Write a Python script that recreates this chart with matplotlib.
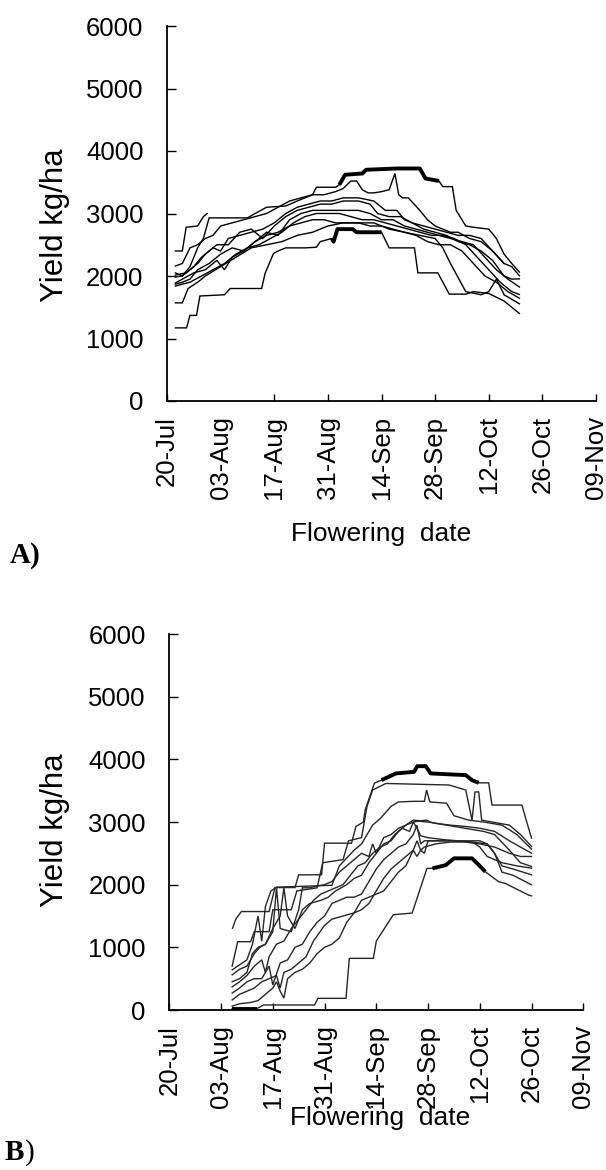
import matplotlib
matplotlib.use("Agg")
import matplotlib.pyplot as plt

# days counted from 20-Jul
tick_days = [0, 14, 28, 42, 56, 70, 84, 98, 112]
tick_labels = ["20-Jul", "03-Aug", "17-Aug", "31-Aug", "14-Sep",
               "28-Sep", "12-Oct", "26-Oct", "09-Nov"]
y_ticks = [0, 1000, 2000, 3000, 4000, 5000, 6000]

# ---- panel A series: (days, yield kg/ha)
a_short_d = [2.2, 4, 5, 8, 9.5, 10.5]
a_short_v = [2400, 2400, 2780, 2800, 2950, 3000]

a1_d = [2.2, 4, 6, 8, 9.5, 11, 21, 23, 26, 31, 34, 38, 39, 44, 45, 46.5, 51, 52, 60, 66,
        67.5, 71, 72, 74.5, 75.5, 78, 80, 84, 86, 88, 90, 92]
a1_v = [2050, 2000, 2150, 2450, 2600, 2930, 2930, 3000, 3100, 3120, 3200, 3300, 3420, 3420,
        3460, 3620, 3640, 3700, 3720, 3720, 3560, 3520, 3430, 3430, 3050, 2800, 2780, 2750,
        2600, 2350, 2200, 2063]

a2_d = [2.2, 4, 6, 8, 10, 12, 14, 17, 20, 23, 26, 29, 32, 35, 38, 41, 44, 46, 48, 49.5, 51,
        52.5, 54, 56, 58, 59.5, 60.5, 61.5, 63, 66, 68, 70, 72, 74, 76, 79, 82, 85, 88]
a2_v = [2160, 2200, 2450, 2500, 2600, 2650, 2800, 2850, 2900, 2950, 3000, 3100, 3200, 3250,
        3300, 3300, 3350, 3400, 3520, 3520, 3380, 3330, 3330, 3350, 3380, 3640, 3300, 3250,
        3250, 3050, 2900, 2800, 2750, 2700, 2700, 2600, 2550, 2400, 2200]

a3_d = [2.2, 5, 7, 9, 12, 14, 16, 19, 22, 25, 28, 31, 34, 37, 40, 43, 46, 50, 54, 57, 60, 62,
        64, 67, 70, 73, 76, 79, 82, 85, 88, 90, 92]
a3_v = [2016, 2050, 2150, 2300, 2450, 2400, 2600, 2650, 2700, 2750, 2850, 3000, 3100, 3150,
        3200, 3200, 3250, 3250, 3200, 3050, 3050, 2900, 2850, 2800, 2750, 2700, 2650, 2650,
        2600, 2400, 2200, 2150, 2004]

a4_d = [2.2, 4, 6, 8, 10, 13, 16, 19, 22, 25, 28, 31, 34, 37, 40, 43, 46, 50, 53, 55, 58, 61,
        64, 67, 70, 73, 76, 79, 82, 85, 88, 90, 92]
a4_v = [1984, 2000, 2100, 2200, 2350, 2500, 2500, 2700, 2750, 2600, 2800, 2950, 3050, 3100,
        3150, 3150, 3200, 3200, 3150, 3000, 2950, 2950, 2850, 2750, 2700, 2650, 2550, 2500,
        2400, 2250, 2000, 1950, 1955]

a5_d = [2.2, 4, 7, 10, 13, 15, 17, 20, 23, 26, 29, 32, 35, 38, 41, 44, 47, 50, 53, 56, 59, 62,
        65, 68, 71, 74, 77, 80, 83, 86, 89, 92]
a5_v = [1888, 1950, 2050, 2100, 2250, 2100, 2300, 2400, 2550, 2700, 2650, 2900, 3000, 3050,
        3050, 3050, 3050, 3050, 3000, 2900, 2900, 2800, 2750, 2700, 2650, 2600, 2550, 2500,
        2300, 2100, 1950, 1824]

a6_d = [2.2, 4, 6, 9, 12, 15, 18, 21, 24, 27, 30, 33, 36, 39, 42, 45, 48, 51, 54, 57, 60, 63,
        66, 69, 72, 75, 78, 81, 84, 87, 90, 92]
a6_v = [1840, 1870, 1900, 2000, 2100, 2200, 2350, 2450, 2500, 2600, 2700, 2850, 2950, 3000,
        3000, 3000, 2950, 2900, 2900, 2850, 2800, 2750, 2700, 2650, 2650, 2600, 2500, 2300,
        2100, 1900, 1750, 1705]

a7_d = [2.2, 4, 6, 8, 11, 14, 17, 20, 23, 26, 29, 32, 35, 38, 41, 44, 47, 50, 53, 56, 59, 62,
        65, 68, 71, 74, 77, 80, 83, 86, 89, 92]
a7_v = [1870, 1900, 1950, 2100, 2200, 2350, 2450, 2400, 2550, 2650, 2700, 2800, 2850, 2900,
        2900, 2850, 2850, 2850, 2800, 2800, 2750, 2700, 2650, 2550, 2500, 2500, 2400, 2200,
        2000, 1900, 1750, 1645]

a8_d = [2.2, 4, 5.5, 8, 10, 14, 18, 22, 26, 30, 34, 38, 42, 46, 50, 54, 58, 62, 66, 70, 72,
        74, 78, 82, 84, 86, 88, 92]
a8_v = [1570, 1570, 1800, 1900, 2000, 2150, 2300, 2450, 2500, 2550, 2650, 2700, 2800, 2850,
        2850, 2850, 2750, 2700, 2650, 2600, 2450, 2200, 1750, 1700, 1750, 1950, 1700, 1555]

a9_d = [2.2, 5.1, 6, 7.7, 8.6, 15, 16.5, 24.7, 25.6, 27.8, 29, 31, 36, 39, 40, 43, 43.5, 44.5,
        48.5, 49.5, 56, 58, 64.6, 65.5, 70.7, 73.7, 78, 80, 84, 88, 92]
a9_v = [1170, 1170, 1370, 1370, 1680, 1700, 1800, 1800, 2040, 2360, 2400, 2450, 2450, 2460,
        2550, 2600, 2550, 2750, 2750, 2700, 2700, 2450, 2450, 2050, 2050, 1710, 1710, 1750,
        1720, 1600, 1400]

a_series = [(a_short_d, a_short_v), (a1_d, a1_v), (a2_d, a2_v), (a3_d, a3_v), (a4_d, a4_v),
            (a5_d, a5_v), (a6_d, a6_v), (a7_d, a7_v), (a8_d, a8_v), (a9_d, a9_v)]
# highlighted (thick) stretches: (series index, first day, last day)
a_thick = [(1, 45, 71), (9, 43, 56)]

# ---- panel B series
b1_d = [17.1, 18, 19.5, 27, 28.6, 34, 35, 41.2, 42, 49.3, 50.5, 52.5, 53, 55.5, 57.4, 61.3,
        66.2, 67.1, 69.4, 70.7, 80.2, 81.9, 83.7, 86.4, 87.3, 95.4, 96.8, 98]
b1_v = [1305, 1450, 1571, 1571, 1954, 1954, 2157, 2157, 2662, 2662, 2929, 3000, 3195, 3621,
        3668, 3775, 3800, 3891, 3891, 3775, 3748, 3668, 3625, 3625, 3270, 3270, 2980, 2742]

b2_d = [17, 18.5, 22, 23, 27, 28, 33, 34.5, 40, 41.5, 47, 48.5, 52, 53.5, 55, 58.6, 75.7,
        80.2, 81.9, 82.7, 83.7, 84.5, 87.3, 92, 95, 98]
b2_v = [700, 1090, 1090, 1250, 1250, 1600, 1600, 1900, 1950, 2350, 2400, 2700, 2750, 3250,
        3510, 3615, 3590, 3510, 3030, 3480, 3480, 3030, 3000, 2950, 2800, 2609]

b3_d = [17, 18.5, 21, 22.5, 24, 25, 26, 27.5, 29, 44, 46, 50, 52, 55, 57, 60, 62, 66, 69,
        69.6, 70.5, 75, 77, 81, 85, 90, 94, 98]
b3_v = [640, 700, 800, 1050, 1500, 1100, 1650, 1900, 1960, 1990, 2300, 2550, 2650, 2950,
        3050, 3250, 3320, 3330, 3330, 3510, 3320, 3300, 3100, 3030, 3000, 2950, 2800, 2567]

b4_d = [17, 19, 21, 23, 24.5, 26, 28, 30, 31, 32, 34, 36, 38, 41, 43, 45, 48, 50, 52, 54, 56,
        58, 60, 62, 64, 66, 68, 69.6, 70.5, 72, 76, 80, 84, 88, 92, 95, 98]
b4_v = [560, 650, 700, 900, 1000, 1050, 1300, 1500, 1950, 1500, 1300, 1600, 1700, 1750, 1800,
        1900, 2000, 2100, 2150, 2350, 2500, 2650, 2700, 2850, 2950, 3030, 3020, 3030, 3000,
        2980, 2950, 2930, 2900, 2850, 2700, 2600, 2503]

b5_d = [17, 19, 21, 22.5, 24, 26, 28, 29, 30, 33, 35, 36, 38, 40, 42, 44, 46, 48, 50, 52, 54,
        55, 56, 58, 60, 62, 64, 66, 67, 68, 70, 75, 80, 85, 88, 92, 95, 98]
b5_v = [450, 500, 600, 900, 1000, 1050, 1250, 1950, 1300, 1250, 1600, 1950, 1950, 1980, 2000,
        2050, 2200, 2300, 2400, 2500, 2450, 2650, 2500, 2750, 2800, 2900, 2950, 3000, 3010,
        3010, 3000, 2950, 2900, 2850, 2800, 2550, 2350, 2290]

b6_d = [17, 19, 21, 23, 25, 26, 27, 29, 31, 33, 35, 37, 39, 41, 43, 45, 47, 49, 51, 53, 55,
        57, 59, 61, 63, 65, 66, 67, 68, 70, 74, 78, 82, 86, 88, 90, 93, 98]
b6_v = [370, 450, 550, 700, 800, 600, 850, 1050, 1100, 1300, 1450, 1600, 1750, 1850, 1900,
        1950, 2000, 2150, 2300, 2350, 2500, 2600, 2650, 2800, 2900, 2850, 3000, 2900, 2780,
        2750, 2720, 2700, 2680, 2650, 2500, 2300, 2250, 2157]

b7_d = [17, 19, 21, 23, 25, 27, 28, 30, 32, 34, 36, 38, 40, 42, 44, 46, 48, 50, 52, 54, 56,
        58, 60, 62, 64, 66, 67, 68, 69, 72, 76, 80, 84, 86, 88, 90, 93, 98]
b7_v = [270, 350, 450, 500, 500, 700, 400, 750, 800, 1000, 1050, 1250, 1400, 1500, 1700, 1750,
        1800, 1800, 1850, 2050, 2250, 2400, 2500, 2600, 2650, 2800, 2950, 2650, 2700, 2700,
        2700, 2700, 2700, 2650, 2500, 2200, 2150, 1997]

b8_d = [17, 19, 21, 23, 25, 27, 29, 30, 31, 33, 35, 37, 39, 42, 44, 47, 50, 52, 54, 56, 58,
        60, 62, 64, 66, 67, 68, 69, 70, 74, 78, 82, 84, 86, 88, 90, 94, 98]
b8_v = [160, 250, 300, 350, 450, 500, 550, 350, 600, 650, 750, 850, 1100, 1350, 1450, 1500,
        1550, 1600, 1700, 1900, 2100, 2250, 2350, 2450, 2550, 2700, 2550, 2500, 2700, 2700,
        2700, 2680, 2600, 2450, 2400, 2350, 2300, 2263]

b9_d = [17, 19, 22, 24, 26, 28, 29, 30, 31, 32, 34, 36, 38, 40, 42, 44, 46, 48, 50, 52, 54,
        56, 58, 60, 62, 64, 66, 67, 68, 69, 72, 76, 80, 84, 88, 92, 95, 98]
b9_v = [60, 100, 120, 150, 250, 350, 450, 300, 190, 500, 600, 650, 750, 900, 1000, 1050, 1150,
        1400, 1550, 1750, 1800, 1850, 1900, 2050, 2200, 2300, 2550, 2450, 2550, 2600, 2650,
        2680, 2680, 2650, 2600, 2500, 2450, 2450]

b10_d = [17, 23.6, 25.5, 39.3, 40.2, 47.8, 48.7, 55.2, 56, 60.6, 65.7, 69.7, 71.2, 74.8, 77,
         81.9, 83.3, 85.5, 89.1, 90.9, 93.6, 97.2, 98]
b10_v = [20, 20, 80, 80, 186, 186, 824, 824, 1100, 1520, 1547, 2260, 2260, 2312, 2420, 2420,
         2340, 2206, 2047, 2020, 1940, 1834, 1821]

b_series = [(b1_d, b1_v), (b2_d, b2_v), (b3_d, b3_v), (b4_d, b4_v), (b5_d, b5_v),
            (b6_d, b6_v), (b7_d, b7_v), (b8_d, b8_v), (b9_d, b9_v), (b10_d, b10_v)]
b_thick = [(0, 57.4, 83.7), (9, 17, 23.6), (9, 70, 85.5)]


def clip_segment(days, vals, d0, d1):
    xs, ys = [], []
    for d, v in zip(days, vals):
        if d0 <= d <= d1:
            xs.append(d)
            ys.append(v)
    return xs, ys


def draw_panel(ax, series, thick, color):
    for days, vals in series:
        ax.plot(days, vals, color=color, linewidth=1.0, solid_joinstyle="miter")
    for idx, d0, d1 in thick:
        xs, ys = clip_segment(*series[idx], d0, d1)
        ax.plot(xs, ys, color="black", linewidth=2.8, solid_capstyle="butt")

    ax.set_xlim(0, 112)
    ax.set_ylim(0, 6000)
    ax.set_xticks(tick_days)
    ax.set_xticklabels(tick_labels, rotation=90)
    ax.set_yticks(y_ticks)
    for side in ("top", "right"):
        ax.spines[side].set_visible(False)
    for side in ("left", "bottom"):
        ax.spines[side].set_linewidth(1.3)
    ax.tick_params(axis="y", direction="in", length=6.5, width=1.0, pad=17, labelsize=18.5)
    ax.tick_params(axis="x", direction="in", length=5, width=1.0, pad=11, labelsize=18.5)
    ax.set_xlabel("Flowering  date", fontsize=19)
    ax.set_ylabel("Yield kg/ha", fontsize=22.5)


plt.rcParams["font.family"] = ["Liberation Sans", "DejaVu Sans"]
fig = plt.figure(figsize=(6.06, 11.70), dpi=100)

ax_a = fig.add_axes([167 / 606, 769 / 1170, 429 / 606, 375 / 1170])
draw_panel(ax_a, a_series, a_thick, "black")
ax_a.xaxis.get_major_ticks()[1].tick1line.set_visible(False)
ax_a.xaxis.set_label_coords(0.50, -0.323)
ax_a.yaxis.set_label_coords(-0.226, 0.47)

ax_b = fig.add_axes([169.3 / 606, 160 / 1170, 414 / 606, 376 / 1170])
draw_panel(ax_b, b_series, b_thick, "#262626")
ax_b.xaxis.set_label_coords(0.51, -0.255)
ax_b.yaxis.set_label_coords(-0.239, 0.479)

serif_bold = dict(family=["Liberation Serif", "DejaVu Serif"], fontweight="bold", fontsize=21)
fig.text(10 / 606, 1 - 563 / 1170, "A)", **serif_bold)
fig.text(5 / 606, 1 - 1160 / 1170, "B", **serif_bold)
fig.text(25 / 606, 1 - 1160 / 1170, ")", family=["Liberation Serif", "DejaVu Serif"],
         fontsize=21)

fig.savefig("out.png", dpi=100)
plt.close(fig)
